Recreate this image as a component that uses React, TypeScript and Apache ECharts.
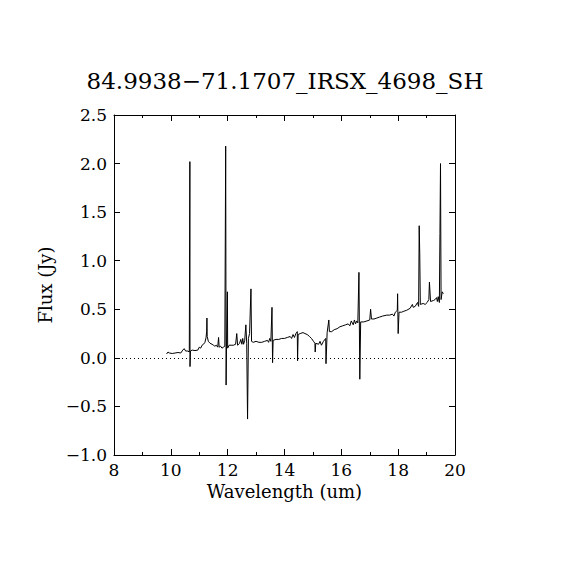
import React, { useEffect, useRef } from "react";
import * as echarts from "echarts";

const TITLE = "84.9938\u221271.1707_IRSX_4698_SH";
const X_NAME = "Wavelength (um)";
const Y_NAME = "Flux (Jy)";

const wavelength: number[] = [
  9.85, 9.9, 9.95, 10.05, 10.15, 10.25, 10.35, 10.42, 10.47, 10.52, 10.6,
  10.65, 10.67, 10.675, 10.69, 10.75, 10.85, 10.95, 11.0, 11.05, 11.1,
  11.15, 11.2, 11.24, 11.26, 11.27, 11.28, 11.32, 11.38, 11.45, 11.5,
  11.55, 11.6, 11.65, 11.68, 11.7, 11.75, 11.8, 11.85, 11.9, 11.93,
  11.945, 11.96, 11.99, 12.0, 12.05, 12.12, 12.2, 12.28, 12.32, 12.35,
  12.42, 12.46, 12.5, 12.53, 12.56, 12.6, 12.64, 12.67, 12.7, 12.73, 12.77, 12.82,
  12.84, 12.9, 13.0, 13.1, 13.2, 13.3, 13.4, 13.44, 13.48, 13.52, 13.56, 13.58,
  13.6, 13.7, 13.8, 13.9, 14.0, 14.1, 14.2, 14.25, 14.3, 14.35, 14.4, 14.45,
  14.46, 14.48, 14.55, 14.65, 14.72, 14.8, 14.88, 14.95, 15.02, 15.07,
  15.08, 15.1, 15.2, 15.25, 15.3, 15.37, 15.45, 15.46, 15.5, 15.56, 15.58,
  15.66, 15.75, 15.85, 15.95, 16.05, 16.15, 16.24, 16.3, 16.35, 16.42, 16.46,
  16.5, 16.54, 16.58, 16.62, 16.65, 16.68, 16.79, 16.9, 17.0, 17.03, 17.06,
  17.15, 17.25, 17.35, 17.45, 17.6, 17.7, 17.8, 17.85, 17.9, 17.97, 17.98,
  18.0, 18.03, 18.12, 18.2, 18.3, 18.42, 18.5, 18.53, 18.6, 18.68,
  18.72, 18.74, 18.76, 18.78, 18.88, 18.95, 19.02, 19.08, 19.1, 19.14,
  19.24, 19.3, 19.35, 19.38, 19.41, 19.45, 19.47, 19.49, 19.51, 19.55, 19.59,
];

const flux: number[] = [
  0.04, 0.06, 0.05, 0.045, 0.05, 0.055, 0.05, 0.08, 0.095, 0.07, 0.07,
  0.06, 2.02, -0.09, 0.07, 0.08, 0.075, 0.08, 0.11, 0.1, 0.13,
  0.14, 0.16, 0.21, 0.27, 0.41, 0.22, 0.17, 0.15, 0.14, 0.13,
  0.12, 0.13, 0.11, 0.21, 0.11, 0.12, 0.1, 0.11, 0.12, 2.18,
  -0.28, 0.12, 0.68, 0.1, 0.13, 0.13, 0.13, 0.14, 0.25, 0.13,
  0.15, 0.19, 0.14, 0.2, 0.14, 0.18, 0.34, 0.15, -0.63, 0.2, 0.25, 0.71,
  0.17, 0.16, 0.17, 0.16, 0.16, 0.17, 0.18, 0.16, 0.2, 0.17, 0.52, -0.05,
  0.18, 0.19, 0.19, 0.2, 0.2, 0.21, 0.22, 0.2, 0.24, 0.21, 0.25, 0.27,
  -0.03, 0.24, 0.25, 0.26, 0.25, 0.24, 0.22, 0.2, 0.17, 0.15,
  0.06, 0.15, 0.14, 0.17, 0.13, 0.17, 0.2, -0.06, 0.26, 0.39, 0.27,
  0.27, 0.29, 0.3, 0.32, 0.33, 0.34, 0.35, 0.33, 0.38, 0.34, 0.39,
  0.35, 0.38, 0.36, 0.88, -0.22, 0.37, 0.37, 0.38, 0.39, 0.5, 0.4,
  0.4, 0.41, 0.42, 0.43, 0.44, 0.44, 0.45, 0.43, 0.47, 0.49, 0.66,
  0.25, 0.47, 0.47, 0.48, 0.49, 0.51, 0.55, 0.52, 0.53, 0.57,
  0.53, 1.36, 1.07, 0.55, 0.56, 0.55, 0.57, 0.6, 0.78, 0.58,
  0.59, 0.6, 0.62, 0.58, 0.63, 0.57, 1.28, 2.0, 0.6, 0.68, 0.66,
];

const X_MIN = 8;
const X_MAX = 20;
const X_STEP = 2;
const Y_MIN = -1;
const Y_MAX = 2.5;
const Y_STEP = 0.5;

const FONT = "DejaVu Serif";

function yLabel(v: number): string {
  return v < 0 ? "\u2212" + Math.abs(v).toFixed(1) : v.toFixed(1);
}

export default function App() {
  const ref = useRef<HTMLDivElement>(null);

  useEffect(() => {
    if (!ref.current) return;
    const chart = echarts.init(ref.current, undefined, { renderer: "svg" });
    const line = { lineStyle: { color: "#000", width: 1 } };
    const baseX = {
      type: "value" as const,
      min: X_MIN,
      max: X_MAX,
      interval: X_STEP,
      splitLine: { show: false },
      axisLine: { show: true, onZero: false, ...line },
      axisTick: { show: true, inside: true, length: 6, ...line },
      minorTick: { show: true, splitNumber: 2, length: 3, ...line },
    };
    const baseY = {
      type: "value" as const,
      min: Y_MIN,
      max: Y_MAX,
      interval: Y_STEP,
      splitLine: { show: false },
      axisLine: { show: true, onZero: false, ...line },
      axisTick: { show: true, inside: true, length: 6, ...line },
    };
    chart.setOption({
      animation: false,
      backgroundColor: "#fff",
      title: {
        text: TITLE,
        left: "center",
        top: 64,
        textStyle: {
          fontFamily: FONT,
          fontSize: 23,
          fontWeight: "normal",
          color: "#000",
        },
      },
      grid: { left: 114, right: 115, top: 115, bottom: 115 },
      xAxis: [
        {
          ...baseX,
          position: "bottom",
          name: X_NAME,
          nameLocation: "middle",
          nameGap: 22,
          nameTextStyle: { fontFamily: FONT, fontSize: 18, color: "#000" },
          axisLabel: {
            show: true,
            margin: 6,
            fontFamily: FONT,
            fontSize: 17,
            color: "#000",
          },
        },
        {
          ...baseX,
          position: "top",
          axisLabel: { show: false },
        },
      ],
      yAxis: [
        {
          ...baseY,
          position: "left",
          name: Y_NAME,
          nameLocation: "middle",
          nameGap: 58,
          nameTextStyle: { fontFamily: FONT, fontSize: 18, color: "#000" },
          axisLabel: {
            show: true,
            margin: 7,
            fontFamily: FONT,
            fontSize: 17,
            color: "#000",
            formatter: yLabel,
          },
        },
        {
          ...baseY,
          position: "right",
          axisLabel: { show: false },
        },
      ],
      series: [
        {
          type: "line",
          xAxisIndex: 0,
          yAxisIndex: 0,
          data: wavelength.map((w, i) => [w, flux[i]]),
          showSymbol: false,
          symbol: "none",
          lineStyle: { color: "#000", width: 1 },
          markLine: {
            silent: true,
            symbol: "none",
            label: { show: false },
            lineStyle: { color: "#000", width: 1, type: [1, 3] },
            data: [{ yAxis: 0 }],
          },
        },
      ],
    });
    return () => chart.dispose();
  }, []);

  return (
    <div
      ref={ref}
      style={{ position: "fixed", left: 0, top: 0, width: 570, height: 570 }}
    />
  );
}
